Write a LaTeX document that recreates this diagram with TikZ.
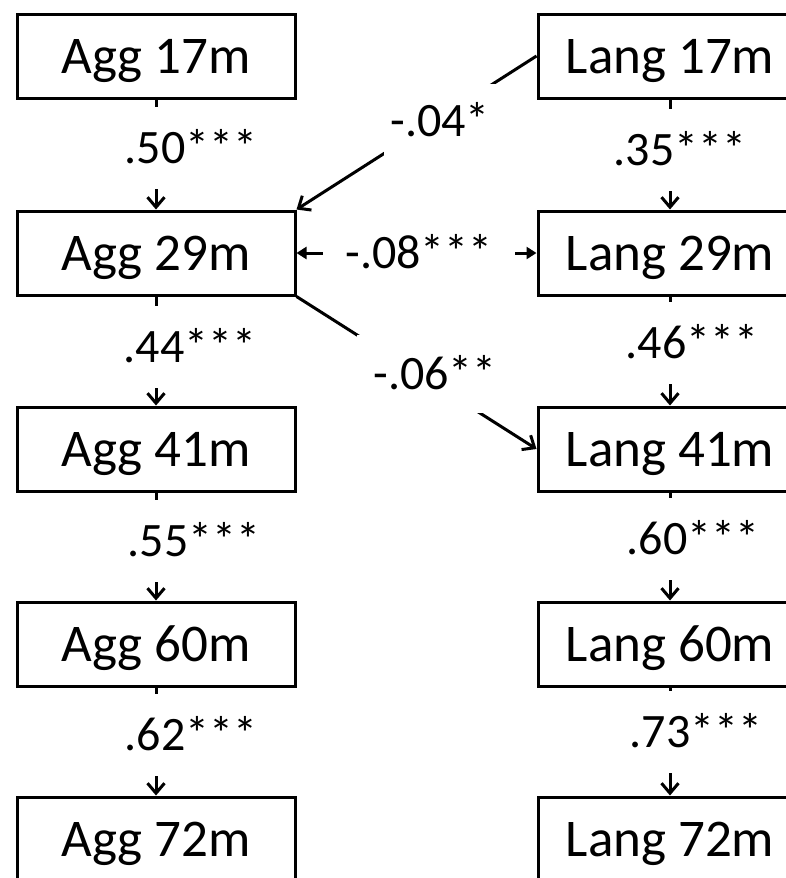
\documentclass[tikz,border=0pt]{standalone}
\usepackage{fontspec}
\setmainfont{Carlito}
\usetikzlibrary{arrows.meta}

\tikzset{
    box/.style={draw, line width=3pt, minimum width=278pt, minimum height=84pt,
        inner sep=0pt, font=\fontsize{53}{60}\selectfont, text height=34pt, text depth=0pt},
    lab/.style={fill=white, font=\fontsize{48}{56}\selectfont, text height=30pt,
        text depth=0pt, inner xsep=2pt, inner ysep=26pt},
    stab/.style={line width=3pt, -{Straight Barb[length=10pt,width=17pt,line width=3pt]}},
    twoway/.style={line width=3pt, {Triangle[length=10pt,width=12pt]}-{Triangle[length=10pt,width=12pt]}}
}

\begin{document}
\begin{tikzpicture}[x=1pt, y=-1pt]
    \useasboundingbox (0,0) rectangle (786,878);

    % Boxes: aggression (left) and language (right)
    \foreach \t/\y in {17/56, 29/253, 41/449, 60/644, 72/839} {
        \node[box] (a\t) at (156,\y) {Agg \t m};
        \node[box, minimum width=264pt] (l\t) at (670,\y) {Lang \t m};
    }

    % Stability paths, aggression
    \foreach \s/\e/\v/\lx/\ly in {17/29/.50/191/148, 29/41/.44/190/347,
                                  41/60/.55/194/541, 60/72/.62/191/735} {
        \draw[stab] (a\s) -- (a\e);
        \node[lab] (pa\s) at (\lx,\ly) {\v***};
    }

    % Stability paths, language
    \foreach \s/\e/\v/\lx/\ly in {17/29/.35/680/150, 29/41/.46/692/343,
                                  41/60/.60/693/539, 60/72/.73/696/732} {
        \draw[stab] (l\s) -- (l\e);
        \node[lab] (pl\s) at (\lx,\ly) {\v***};
    }

    % Cross-lagged paths
    \draw[stab] (l17.west) -- (a29.north east);
    \node[lab, inner xsep=6pt, inner ysep=22pt] (c04) at (440,121) {-.04*};

    \draw[twoway] (a29.east) -- (l29.west);
    \node[lab, inner xsep=22pt, inner ysep=3pt] (c08) at (419,253) {-.08***};

    \draw[stab] (a29.south east) -- (l41.west);
    \node[lab, inner xsep=16pt, inner ysep=24pt] (c06) at (435,374) {-.06**};
\end{tikzpicture}
\end{document}
